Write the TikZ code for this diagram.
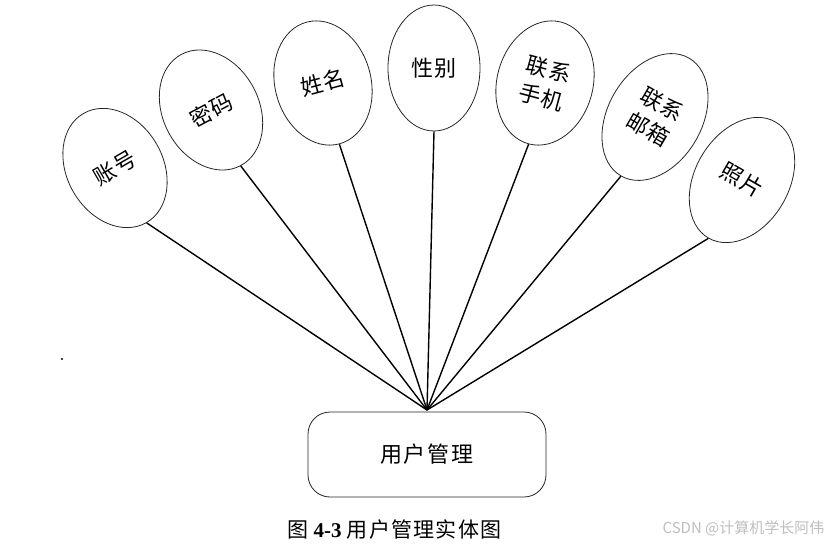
\documentclass[tikz,border=0pt]{standalone}
\usepackage{fontspec}
\setmainfont{Liberation Serif}
\newfontfamily\cjkA[LetterSpace=5]{Noto Sans CJK SC}
\newfontfamily\cjkB[LetterSpace=9]{Noto Sans CJK SC}
\newfontfamily\cjkC[LetterSpace=6]{Noto Sans CJK SC}
\newfontfamily\wmfont{Noto Sans CJK SC}
\usetikzlibrary{shapes.geometric}
\definecolor{wmgray}{RGB}{190,190,190}
\tikzset{
  attr/.style={ellipse, draw=black!85, line width=0.8pt, inner sep=0pt,
    align=center, font=\cjkA\fontsize{22}{29}\selectfont},
  link/.style={draw=black, line width=1.4pt},
  entity/.style={draw=black!85, line width=0.8pt, rounded corners=22pt,
    minimum width=238pt, minimum height=85pt, inner sep=0pt,
    font=\cjkB\fontsize{22}{26}\selectfont}
}
\begin{document}
\begin{tikzpicture}[x=1pt,y=-1pt]
\useasboundingbox (0,0) rectangle (838,544);
\node[attr, minimum width=96pt, minimum height=126pt, rotate=30]  (a1) at (115,168) {账号};
\node[attr, minimum width=96pt, minimum height=126pt, rotate=28]  (a2) at (211,110) {密码};
\node[attr, minimum width=96pt, minimum height=126pt, rotate=15]  (a3) at (323,83)  {姓名};
\node[attr, minimum width=92pt, minimum height=126pt, rotate=0]   (a4) at (434,68)  {性别};
\node[attr, minimum width=96pt, minimum height=126pt, rotate=-15] (a5) at (545,83)  {联系\\手机};
\node[attr, minimum width=94pt, minimum height=136pt, rotate=-30] (a6) at (655,117) {联系\\邮箱};
\node[attr, minimum width=94pt, minimum height=134pt, rotate=-30] (a7) at (742,180) {照片};
\node[entity] (m) at (427,454.5) {用户管理};
\coordinate (c) at (427,410);
\foreach \i in {1,...,7} { \draw[link] (a\i.south) -- (c); }
\node[font=\fontsize{21}{24}\selectfont, inner sep=0pt] (cap) at (394.5,529.5)
  {{\cjkC 图} {\bfseries 4-3} {\cjkC 用户管理实体图}};
\node[font=\wmfont\fontsize{15}{18}\selectfont, text=wmgray, inner sep=0pt] (wm) at (743.5,528) {CSDN @计算机学长阿伟};
\fill[black] (62,359) circle (1.1pt);
\end{tikzpicture}
\end{document}
